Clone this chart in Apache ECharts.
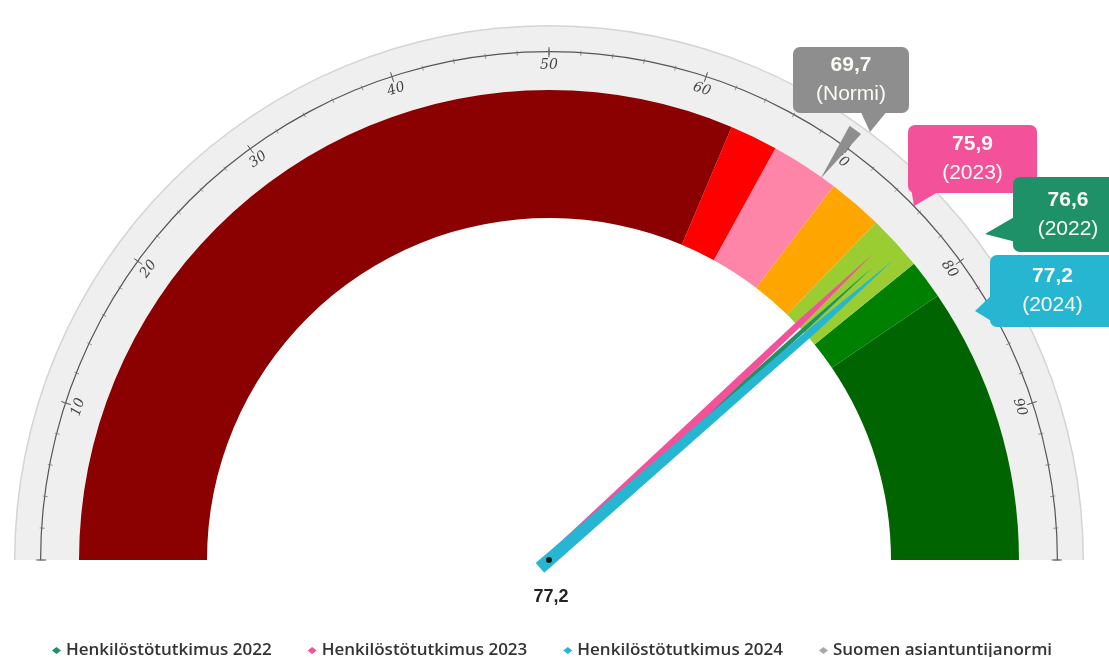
<!DOCTYPE html>
<html><head><meta charset="utf-8">
<script src="https://cdn.jsdelivr.net/npm/echarts@6/dist/echarts.min.js"></script>
<style>html,body{margin:0;padding:0;background:#fff}#c{width:1109px;height:657px}</style>
</head><body><div id="c"></div>
<script>
// ---- data ----
const scaleMin = 0, scaleMax = 100;
const bandLimits = [62.7, 66.0, 70.7, 74.5, 78.3, 81.0, 100];
const bandColors = ['#8b0000', '#ff0000', '#ff85a8', '#ffa500', '#9acd32', '#008000', '#006400'];
const tickLabels = ['', '10', '20', '30', '40', '50', '60', '70', '80', '90', ''];
const seriesNames = ['Henkilöstötutkimus 2022', 'Henkilöstötutkimus 2023', 'Henkilöstötutkimus 2024'];
const seriesValues = [76.6, 75.9, 77.2];
const seriesYears = ['(2022)', '(2023)', '(2024)'];
const seriesColors = ['#1f9168', '#f4519b', '#27b6d1'];
const normName = 'Suomen asiantuntijanormi';
const normValue = 69.7;
const normLabel = '(Normi)';
const normColor = '#8e8e8e';

// ---- layout ----
const CENTER = [549, 560];
const R_OUT = 534, R_AXIS = 509, R_BAND = 470, BAND_W = 128;
const pointerLayout = [ // [width, tipRadius, tailBehindCenter]
  [8, 436, 6], [11, 447, 9], [13, 456, 12]
];
const calloutBoxes = {
  norm: { box: [793, 47, 116, 66], tail: [[860, 110], [888, 110], [870, 132]] },
  1: { box: [908, 125, 129, 68], tail: [[911, 188], [945, 188], [914, 206]] },
  0: { box: [1013, 177, 110, 75], tail: [[1016, 216], [1016, 242], [985, 234]] },
  2: { box: [990, 255, 125, 72], tail: [[993, 294], [993, 322], [975, 311]] }
};

const fmt = v => v.toFixed(1).replace('.', ',');
const common = { type: 'gauge', center: CENTER, startAngle: 180, endAngle: 0, min: scaleMin, max: scaleMax };
const off = { axisLine: { show: false }, axisTick: { show: false }, splitLine: { show: false }, axisLabel: { show: false },
  pointer: { show: false }, anchor: { show: false }, title: { show: false }, detail: { show: false }, progress: { show: false } };

const series = [];
series.push(Object.assign({}, common, off, { name: 'ring', radius: R_OUT, silent: true, z: 1,
  axisLine: { show: true, lineStyle: { width: R_OUT - R_BAND, color: [[1, '#efefef']] } }, data: [] }));
series.push(Object.assign({}, common, off, { name: 'ringEdge', radius: R_OUT + 1, silent: true, z: 1,
  axisLine: { show: true, lineStyle: { width: 1.5, color: [[1, '#d4d4d4']] } }, data: [] }));
series.push(Object.assign({}, common, off, { name: 'bands', radius: R_BAND, silent: true, z: 2,
  axisLine: { show: true, lineStyle: { width: BAND_W, color: bandLimits.map((l, i) => [(l - scaleMin) / (scaleMax - scaleMin), bandColors[i]]) } }, data: [] }));
series.push(Object.assign({}, common, off, { name: 'scale', radius: R_AXIS, silent: true, z: 3, splitNumber: 10,
  axisLine: { show: true, lineStyle: { width: 1.2, color: [[1, '#555']] } },
  splitLine: { show: true, length: 10, distance: -5, lineStyle: { color: '#555', width: 1 } },
  axisTick: { show: true, splitNumber: 5, length: 5, distance: -2.5, lineStyle: { color: '#777', width: 0.8 } },
  axisLabel: { show: true, distance: 9, rotate: 'tangential', color: '#444', fontSize: 14,
    fontFamily: 'DejaVu Serif', fontStyle: 'italic',
    formatter: v => tickLabels[Math.round((v - scaleMin) / 10)] || '' },
  data: [] }));

// norm marker
series.push(Object.assign({}, common, off, { name: normName, radius: R_AXIS, z: 5,
  itemStyle: { color: normColor },
  pointer: { show: true, icon: 'path://M0,0 L10,0 L5,100 Z', keepAspect: false, width: 14, length: 60,
    offsetCenter: [0, -468], itemStyle: { color: normColor } },
  data: [{ value: normValue, name: normName }] }));

seriesNames.forEach((nm, i) => {
  const [w, tip, back] = pointerLayout[i];
  const isLast = i === seriesNames.length - 1;
  series.push(Object.assign({}, common, off, { name: nm, radius: R_BAND, z: 6 + i,
    itemStyle: { color: seriesColors[i] },
    pointer: { show: true, icon: 'path://M0,100 L2.2,22 L5,0 L7.8,22 L10,100 Z', keepAspect: false, width: w,
      length: tip + back, offsetCenter: [0, back], itemStyle: { color: seriesColors[i] } },
    anchor: { show: isLast, showAbove: true, size: 6, itemStyle: { color: '#1a1a1a' } },
    detail: { show: isLast, offsetCenter: [2, 37], formatter: v => fmt(v), color: '#222',
      fontSize: 18, fontWeight: 'bold', fontFamily: 'Liberation Sans' },
    data: [{ value: seriesValues[i], name: nm }] }));
});

// callouts
const graphic = [];
function addCallout(cfg, color, value, label) {
  const [x, y, w, h] = cfg.box;
  graphic.push({ type: 'polygon', shape: { points: cfg.tail }, style: { fill: color }, z: 100 });
  graphic.push({ type: 'rect', shape: { x, y, width: w, height: h, r: 7 }, style: { fill: color }, z: 100 });
  graphic.push({ type: 'text', x: x + w / 2, y: y + h / 2, z: 101,
    style: { text: '{v|' + fmt(value) + '}\n{l|' + label + '}', align: 'center', verticalAlign: 'middle',
      fill: '#fbfbf4', fontFamily: 'Liberation Sans',
      rich: { v: { fontSize: 21, fontWeight: 'bold', lineHeight: 29, fill: '#fbfbf4', fontFamily: 'Liberation Sans' },
              l: { fontSize: 21, lineHeight: 29, fill: '#fbfbf4', fontFamily: 'Liberation Sans' } } } });
}
addCallout(calloutBoxes.norm, normColor, normValue, normLabel);
addCallout(calloutBoxes[1], seriesColors[1], seriesValues[1], seriesYears[1]);
addCallout(calloutBoxes[0], seriesColors[0], seriesValues[0], seriesYears[0]);
addCallout(calloutBoxes[2], seriesColors[2], seriesValues[2], seriesYears[2]);

const chart = echarts.init(document.getElementById('c'), null, { renderer: 'canvas' });
chart.setOption({
  animation: false,
  backgroundColor: '#ffffff',
  legend: {
    left: 47, top: 637, itemGap: 36, itemWidth: 9, itemHeight: 7, icon: 'diamond',
    textStyle: { color: '#333', fontSize: 17, fontWeight: 600, fontFamily: 'Open Sans' },
    data: seriesNames.map((n, i) => ({ name: n, itemStyle: { color: seriesColors[i] } }))
      .concat([{ name: normName, itemStyle: { color: '#aaaaaa' } }])
  },
  series,
  graphic
});
</script></body></html>
